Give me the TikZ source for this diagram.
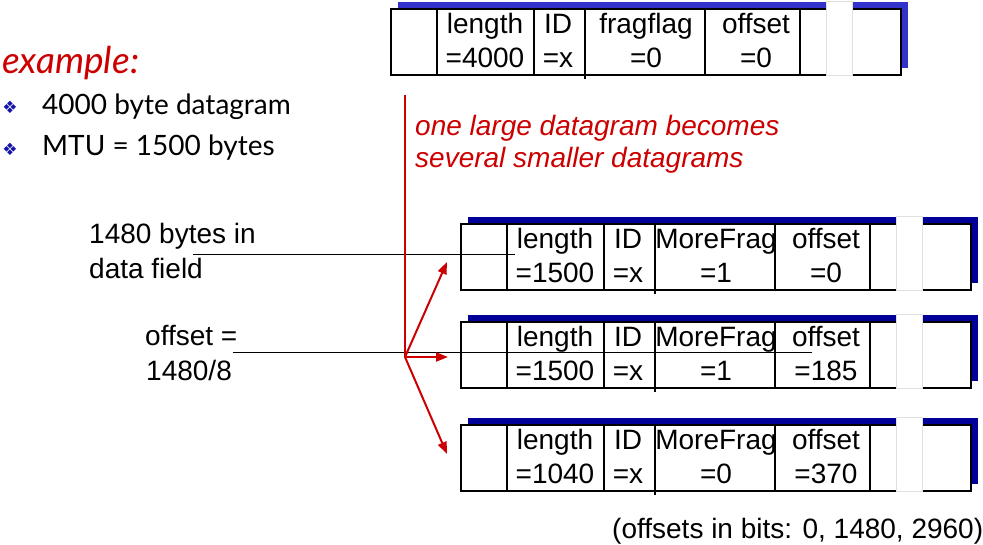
\documentclass[tikz,border=0pt]{standalone}
\usepackage{fontspec}
\setmainfont{Liberation Sans}
\newfontfamily\gillfont{Lato}
\newfontfamily\symfont{DejaVu Sans}
\usetikzlibrary{arrows.meta}

\definecolor{slidered}{RGB}{204,0,0}
\definecolor{topshadow}{RGB}{51,51,204}
\definecolor{fragshadow}{RGB}{0,0,153}
\definecolor{bulletblue}{RGB}{20,20,170}

\tikzset{
  frame/.style={draw, line width=2pt, fill=white, minimum width=510pt, minimum height=66pt, inner sep=0pt},
  divider/.style={line width=1.8pt},
  fieldtext/.style={anchor=base, inner sep=0pt, font=\fontsize{28}{33}\selectfont},
  plaintext/.style={anchor=base west, inner sep=0pt, font=\fontsize{28}{33}\selectfont},
  redarrow/.style={draw=slidered, line width=2pt, -{Triangle[length=12pt,width=9pt]}}
}

% one datagram: name, left x, top y, shadow colour, length, ID, flag name, flag value, offset
\newcommand{\datagram}[9]{%
  \begin{scope}[shift={(#2,#3)}]
    \fill[#4] (8,-6) rectangle (518,60);
    \node[frame, anchor=north west] (#1) at (0,0) {};
    \foreach \dx in {47,144,315,410}
      \draw[divider] (\dx,0) -- (\dx,66);
    \draw[divider] (195,0) -- (195,71);
    \fill[white, draw=black!12, line width=0.6pt] (436,-7) rectangle (462,67);
    \node[fieldtext] (#1-len) at (95,25) {length};
    \node[fieldtext] (#1-lenval) at (95,59) {=#5};
    \node[fieldtext] (#1-id) at (168,25) {ID};
    \node[fieldtext] (#1-idval) at (168,59) {=#6};
    \node[fieldtext] (#1-flag) at (256,25) {#7};
    \node[fieldtext] (#1-flagval) at (256,59) {=#8};
    \node[fieldtext] (#1-off) at (366,25) {offset};
    \node[fieldtext] (#1-offval) at (366,59) {=#9};
  \end{scope}}

\begin{document}
\begin{tikzpicture}[x=1pt,y=-1pt]
  \useasboundingbox (0,0) rectangle (983,544);

  % Datagrams
  \datagram{orig}{390}{8}{topshadow}{4000}{x}{fragflag}{0}{0}
  \datagram{fragA}{460}{223}{fragshadow}{1500}{x}{MoreFrag}{1}{0}
  \datagram{fragB}{460}{321}{fragshadow}{1500}{x}{MoreFrag}{1}{185}
  \datagram{fragC}{460}{424}{fragshadow}{1040}{x}{MoreFrag}{0}{370}

  % Example text
  \node[anchor=base west, inner sep=0pt, text=slidered, font=\gillfont\itshape\fontsize{37}{42}\selectfont] (example) at (2,73) {example:};
  \node[text=bulletblue, inner sep=0pt, font=\symfont\fontsize{17}{20}\selectfont] (bulletA) at (10,107) {❖};
  \node[text=bulletblue, inner sep=0pt, font=\symfont\fontsize{17}{20}\selectfont] (bulletB) at (10,149) {❖};
  \node[anchor=base west, inner sep=0pt, font=\gillfont\fontsize{28}{33}\selectfont] (datagram) at (42,114) {4000 byte datagram};
  \node[anchor=base west, inner sep=0pt, font=\gillfont\fontsize{28}{33}\selectfont] (mtu) at (42,155) {MTU = 1500 bytes};

  % Red note
  \node[plaintext, text=slidered, font=\itshape\fontsize{28}{33}\selectfont] (noteA) at (415,135) {one large datagram becomes};
  \node[plaintext, text=slidered, font=\itshape\fontsize{28}{33}\selectfont] (noteB) at (415,167) {several smaller datagrams};

  % Side labels
  \node[plaintext] (bytesA) at (89,243) {1480 bytes in};
  \node[plaintext] (bytesB) at (89,278) {data field};
  \node[plaintext] (offA) at (145,345) {offset =};
  \node[plaintext] (offB) at (146,380) {1480/8};
  \node[plaintext] (bits) at (612,538) {(offsets in bits: 0, 1480, 2960)};

  % Pointer lines
  \coordinate (bytesstart) at (193,254);
  \coordinate (bytesend) at (515,254);
  \coordinate (offstart) at (233,352);
  \coordinate (offend) at (812,352);
  \draw[line width=1pt] (bytesstart) -- (bytesend);
  \draw[line width=1pt] (offstart) -- (offend);

  % Fragmentation arrows
  \coordinate (redtop) at (405,95);
  \coordinate (split) at (405,357);
  \coordinate (toA) at (447,262);
  \coordinate (toB) at (448,357);
  \coordinate (toC) at (447,454);
  \draw[draw=slidered, line width=2pt] (redtop) -- (split);
  \draw[redarrow] (split) -- (toA);
  \draw[redarrow] (split) -- (toB);
  \draw[redarrow] (split) -- (toC);
\end{tikzpicture}
\end{document}
